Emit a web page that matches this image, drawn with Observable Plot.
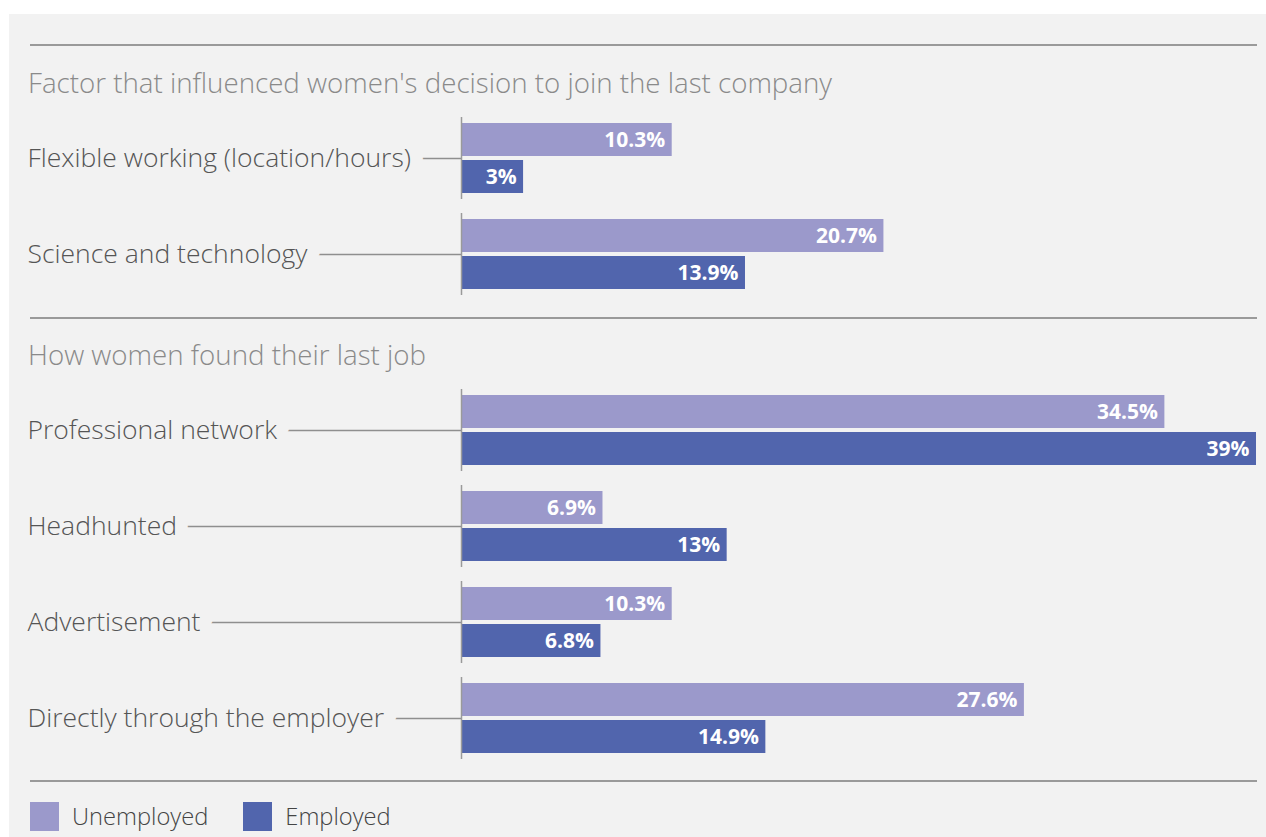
<!DOCTYPE html>
<html>
<head>
<meta charset="utf-8">
<script src="https://cdn.jsdelivr.net/npm/d3@7"></script>
<script src="https://cdn.jsdelivr.net/npm/@observablehq/plot@0.6"></script>
<style>
  html, body { margin: 0; padding: 0; background: #ffffff; width: 1266px; height: 837px; overflow: hidden; font-family: "Open Sans", sans-serif; }
  #bg { position: absolute; left: 9px; top: 14px; width: 1257px; height: 823px; background: #f2f2f2; }
  .sep { position: absolute; left: 30px; width: 1227px; height: 2px; background: #9a9a9a; }
  .title { position: absolute; left: 28px; font-size: 27.7px; line-height: 26px; color: #8a8a8a; font-weight: 300; white-space: nowrap; }
  .chart { position: absolute; left: 0; }
  #legend { position: absolute; left: 30px; top: 802px; display: flex; align-items: center; }
  .sw { width: 29px; height: 29px; display: inline-block; }
  .lt { font-size: 23.7px; color: #444; margin-left: 13px; margin-right: 0; line-height: 29px; font-weight: 300; }
</style>
</head>
<body>
<div id="bg"></div>
<div class="sep" style="top:44px"></div>
<div class="sep" style="top:317px"></div>
<div class="sep" style="top:780px"></div>
<div class="title" id="t1" style="top:69px"></div>
<div class="title" id="t2" style="top:341px"></div>
<div class="chart" id="c1" style="top:117px"></div>
<div class="chart" id="c2" style="top:388px"></div>
<div id="legend"></div>
<script>
const series = ["Unemployed", "Employed"];
const seriesColors = ["#9b99cb", "#5165ad"];

const section1Title = "Factor that influenced women's decision to join the last company";
const section1Categories = ["Flexible working (location/hours)", "Science and technology"];
const section1Unemployed = [10.3, 20.7];
const section1Employed = [3, 13.9];

const section2Title = "How women found their last job";
const section2Categories = ["Professional network", "Headhunted", "Advertisement", "Directly through the employer"];
const section2Unemployed = [34.5, 6.9, 10.3, 27.6];
const section2Employed = [39, 13, 6.8, 14.9];

const xMax = 39;

document.getElementById("t1").textContent = section1Title;
document.getElementById("t2").textContent = section2Title;

function makeChart(categories, unemployed, employed, height) {
  const data = categories.flatMap((c, i) => [
    {category: c, series: series[0], value: unemployed[i]},
    {category: c, series: series[1], value: employed[i]}
  ]);
  return Plot.plot({
    width: 1266,
    height,
    marginLeft: 462,
    marginRight: 10,
    marginTop: 0,
    marginBottom: 0,
    style: {background: "transparent", fontFamily: "'Open Sans', sans-serif", overflow: "visible"},
    x: {domain: [0, xMax], axis: null},
    y: {domain: series, paddingInner: 0.108, paddingOuter: 0.162, axis: null},
    fy: {domain: categories, paddingInner: 0.15, paddingOuter: 0},
    color: {domain: series, range: seriesColors},
    marks: [
      Plot.axisFy({anchor: "left", tickSize: 435, fill: null, stroke: "#8f8f8f", strokeWidth: 1.3, label: null}),
      Plot.text(categories, {
        fy: d => d, text: d => d, frameAnchor: "left", dx: -435, textAnchor: "start",
        fill: "#555555", fontSize: 26.5, fontWeight: 300, stroke: "#f2f2f2", strokeWidth: 26, paintOrder: "stroke"
      }),
      Plot.barX(data, {fy: "category", y: "series", x: "value", fill: "series"}),
      Plot.ruleX([0], {stroke: "#9a9a9a", strokeWidth: 1.5, dx: -1}),
      Plot.text(data, {
        fy: "category", y: "series", x: "value", text: d => d.value + "%",
        textAnchor: "end", dx: -7, fill: "white", fontWeight: "bold", fontSize: 21
      })
    ]
  });
}

document.getElementById("c1").appendChild(makeChart(section1Categories, section1Unemployed, section1Employed, 178));
document.getElementById("c2").appendChild(makeChart(section2Categories, section2Unemployed, section2Employed, 372));

const legend = document.getElementById("legend");
series.forEach((s, i) => {
  const sw = document.createElement("span");
  sw.className = "sw";
  sw.style.background = seriesColors[i];
  if (i > 0) sw.style.marginLeft = "35px";
  const lt = document.createElement("span");
  lt.className = "lt";
  lt.textContent = s;
  legend.appendChild(sw);
  legend.appendChild(lt);
});
</script>
</body>
</html>
